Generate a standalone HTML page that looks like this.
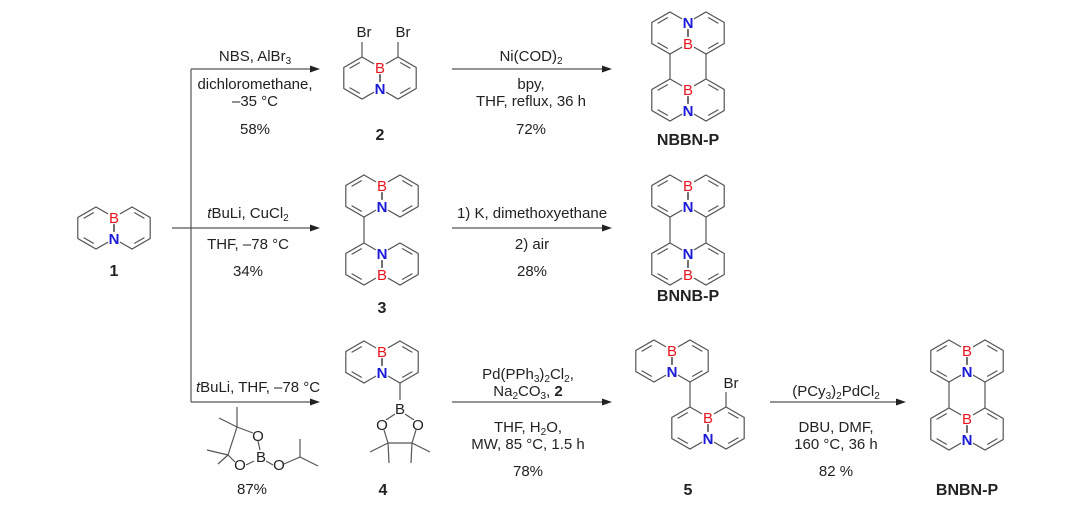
<!DOCTYPE html>
<html><head><meta charset="utf-8"><style>
html,body{margin:0;padding:0;background:#fff}
svg{display:block}
text{font-family:"Liberation Sans",Arial,sans-serif;font-size:15px;fill:#222}
.c{text-anchor:middle}
.b{font-weight:bold;font-size:16px}
.B{fill:#e8141e;font-size:15px;text-anchor:middle}
.N{fill:#1a1ad8;font-size:15px;text-anchor:middle;font-weight:bold}
.l{stroke:#555;stroke-width:1.2;fill:none}
</style></head><body>
<svg width="1080" height="506" viewBox="0 0 1080 506" xmlns="http://www.w3.org/2000/svg">
<defs>
<g id="hL" class="l"><polygon points="0,-21 18.2,-10.5 18.2,10.5 0,21 -18.2,10.5 -18.2,-10.5"/><line x1="-12.4" y1="-9.6" x2="-2.2" y2="-15.5"/><line x1="-12.4" y1="9.6" x2="-2.2" y2="15.5"/></g>
<g id="hR" class="l"><polygon points="0,-21 18.2,-10.5 18.2,10.5 0,21 -18.2,10.5 -18.2,-10.5"/><line x1="12.4" y1="-9.6" x2="2.2" y2="-15.5"/><line x1="12.4" y1="9.6" x2="2.2" y2="15.5"/></g>
<g id="bn"><use href="#hL" x="-18" y="0"/><use href="#hR" x="18" y="0"/></g>
</defs>
<g class="l" fill="none">
<line x1="191" y1="69" x2="312" y2="69"/><line x1="191" y1="69" x2="191" y2="402"/>
<line x1="172" y1="228" x2="312" y2="228"/>
<line x1="191" y1="402" x2="312" y2="402"/>
<line x1="452" y1="69" x2="604" y2="69"/>
<line x1="452" y1="228" x2="604" y2="228"/>
<line x1="452" y1="402" x2="604" y2="402"/>
<line x1="770" y1="402" x2="898" y2="402"/>
</g>
<g fill="#222">
<polygon points="320,69 310,65.5 310,72.5"/><polygon points="320,228 310,224.5 310,231.5"/><polygon points="320,402 310,398.5 310,405.5"/>
<polygon points="612,69 602,65.5 602,72.5"/><polygon points="612,228 602,224.5 602,231.5"/><polygon points="612,402 602,398.5 602,405.5"/>
<polygon points="906,402 896,398.5 896,405.5"/>
</g>
<use href="#bn" x="114" y="228"/>
<use href="#bn" x="380" y="78"/>
<use href="#bn" x="688" y="33"/><use href="#bn" x="688" y="100"/>
<use href="#bn" x="382" y="196"/><use href="#bn" x="382" y="264"/>
<use href="#bn" x="688" y="196"/><use href="#bn" x="688" y="264"/>
<use href="#bn" x="382" y="362"/>
<use href="#bn" x="672" y="361"/><use href="#bn" x="708" y="428"/>
<use href="#bn" x="967" y="361"/><use href="#bn" x="967" y="429"/>
<g class="l">
<line x1="362" y1="57" x2="362" y2="42"/><line x1="398" y1="57" x2="398" y2="42"/>
<line x1="670" y1="54" x2="670" y2="79"/><line x1="706" y1="54" x2="706" y2="79"/>
<line x1="364" y1="217" x2="364" y2="243"/>
<line x1="670" y1="217" x2="670" y2="243"/><line x1="706" y1="217" x2="706" y2="243"/>
<line x1="690" y1="382" x2="690" y2="407"/><line x1="726" y1="407" x2="726" y2="392"/>
<line x1="949" y1="382" x2="949" y2="408"/><line x1="985" y1="382" x2="985" y2="408"/>
<line x1="400" y1="383" x2="400" y2="400"/>
<line x1="395" y1="414" x2="386" y2="420"/><line x1="405" y1="414" x2="414" y2="420"/>
<line x1="384" y1="430" x2="388" y2="443"/><line x1="416" y1="430" x2="412" y2="443"/>
<line x1="388" y1="443" x2="412" y2="443"/>
<line x1="388" y1="443" x2="370" y2="452"/><line x1="388" y1="443" x2="389" y2="463"/>
<line x1="412" y1="443" x2="430" y2="452"/><line x1="412" y1="443" x2="411" y2="463"/>
<line x1="237" y1="427" x2="253" y2="433"/><line x1="237" y1="427" x2="228" y2="455"/>
<line x1="228" y1="455" x2="235" y2="462"/>
<line x1="258" y1="441" x2="260" y2="450"/><line x1="246" y1="465" x2="254" y2="461"/>
<line x1="266" y1="461" x2="273" y2="465"/><line x1="284" y1="464" x2="300" y2="457"/>
<line x1="300" y1="457" x2="318" y2="466"/><line x1="300" y1="457" x2="300" y2="439"/>
<line x1="237" y1="427" x2="237" y2="407"/><line x1="237" y1="427" x2="219" y2="418"/>
<line x1="228" y1="455" x2="207" y2="450"/><line x1="228" y1="455" x2="218" y2="464"/>
</g>
<g fill="#fff">
<circle cx="114" cy="217.5" r="7"/><circle cx="114" cy="238.5" r="7"/>
<circle cx="380" cy="67.5" r="7"/><circle cx="380" cy="88.5" r="7"/>
<circle cx="688" cy="22.5" r="7"/><circle cx="688" cy="43.5" r="7"/><circle cx="688" cy="89.5" r="7"/><circle cx="688" cy="110.5" r="7"/>
<circle cx="382" cy="185.5" r="7"/><circle cx="382" cy="206.5" r="7"/><circle cx="382" cy="253.5" r="7"/><circle cx="382" cy="274.5" r="7"/>
<circle cx="688" cy="185.5" r="7"/><circle cx="688" cy="206.5" r="7"/><circle cx="688" cy="253.5" r="7"/><circle cx="688" cy="274.5" r="7"/>
<circle cx="382" cy="351.5" r="7"/><circle cx="382" cy="372.5" r="7"/>
<circle cx="672" cy="350.5" r="7"/><circle cx="672" cy="371.5" r="7"/>
<circle cx="708" cy="417.5" r="7"/><circle cx="708" cy="438.5" r="7"/>
<circle cx="967" cy="350.5" r="7"/><circle cx="967" cy="371.5" r="7"/><circle cx="967" cy="418.5" r="7"/><circle cx="967" cy="439.5" r="7"/>
</g>
<g class="l">
<line x1="114" y1="224" x2="114" y2="232"/><line x1="380" y1="74" x2="380" y2="82"/>
<line x1="688" y1="29" x2="688" y2="37"/><line x1="688" y1="96" x2="688" y2="104"/>
<line x1="382" y1="192" x2="382" y2="200"/><line x1="382" y1="260" x2="382" y2="268"/>
<line x1="688" y1="192" x2="688" y2="200"/><line x1="688" y1="260" x2="688" y2="268"/>
<line x1="382" y1="358" x2="382" y2="366"/><line x1="672" y1="357" x2="672" y2="365"/>
<line x1="708" y1="424" x2="708" y2="432"/><line x1="967" y1="357" x2="967" y2="365"/><line x1="967" y1="425" x2="967" y2="433"/>
</g>
<g>
<text x="114" y="223" class="B">B</text><text x="380" y="73" class="B">B</text>
<text x="688" y="49" class="B">B</text><text x="688" y="95" class="B">B</text>
<text x="382" y="191" class="B">B</text><text x="382" y="280" class="B">B</text>
<text x="688" y="191" class="B">B</text><text x="688" y="280" class="B">B</text>
<text x="382" y="357" class="B">B</text><text x="672" y="356" class="B">B</text><text x="708" y="423" class="B">B</text>
<text x="967" y="356" class="B">B</text><text x="967" y="424" class="B">B</text>
</g>
<g>
<text x="114" y="244" class="N">N</text><text x="380" y="94" class="N">N</text>
<text x="688" y="28" class="N">N</text><text x="688" y="116" class="N">N</text>
<text x="382" y="212" class="N">N</text><text x="382" y="259" class="N">N</text>
<text x="688" y="212" class="N">N</text><text x="688" y="259" class="N">N</text>
<text x="382" y="378" class="N">N</text><text x="672" y="377" class="N">N</text><text x="708" y="444" class="N">N</text>
<text x="967" y="377" class="N">N</text><text x="967" y="445" class="N">N</text>
</g>
<text x="364" y="37" class="c">Br</text><text x="403" y="37" class="c">Br</text>
<text x="731" y="388" class="c">Br</text>
<text x="400" y="414" class="c">B</text>
<text x="382" y="430" class="c">O</text><text x="418" y="430" class="c">O</text>
<text x="258" y="441" class="c">O</text><text x="261" y="462" class="c">B</text>
<text x="240" y="470" class="c">O</text><text x="279" y="470" class="c">O</text>
<text x="114" y="276" class="c b">1</text><text x="380" y="140" class="c b">2</text><text x="382" y="313" class="c b">3</text>
<text x="383" y="495" class="c b">4</text><text x="688" y="495" class="c b">5</text>
<text x="688" y="145" class="c b">NBBN-P</text><text x="688" y="301" class="c b">BNNB-P</text><text x="967" y="495" class="c b">BNBN-P</text>
<text x="255" y="61" class="c">NBS, AlBr<tspan font-size="10" dy="3">3</tspan></text>
<text x="255" y="89" class="c">dichloromethane,</text><text x="255" y="106" class="c">–35 °C</text><text x="255" y="134" class="c">58%</text>
<text x="248" y="218" class="c"><tspan font-style="italic">t</tspan>BuLi, CuCl<tspan font-size="10" dy="3">2</tspan></text>
<text x="248" y="249" class="c">THF, –78 °C</text><text x="248" y="276" class="c">34%</text>
<text x="258" y="392" class="c"><tspan font-style="italic">t</tspan>BuLi, THF, –78 °C</text>
<text x="252" y="494" class="c">87%</text>
<text x="531" y="61" class="c">Ni(COD)<tspan font-size="10" dy="3">2</tspan></text>
<text x="531" y="89" class="c">bpy,</text><text x="531" y="106" class="c">THF, reflux, 36 h</text><text x="531" y="134" class="c">72%</text>
<text x="532" y="218" class="c">1) K, dimethoxyethane</text>
<text x="532" y="249" class="c">2) air</text><text x="532" y="276" class="c">28%</text>
<text x="528" y="379" class="c">Pd(PPh<tspan font-size="10" dy="3">3</tspan><tspan dy="-3">)</tspan><tspan font-size="10" dy="3">2</tspan><tspan dy="-3">Cl</tspan><tspan font-size="10" dy="3">2</tspan><tspan dy="-3">,</tspan></text>
<text x="528" y="396" class="c">Na<tspan font-size="10" dy="3">2</tspan><tspan dy="-3">CO</tspan><tspan font-size="10" dy="3">3</tspan><tspan dy="-3">, </tspan><tspan font-weight="bold">2</tspan></text>
<text x="528" y="432" class="c">THF, H<tspan font-size="10" dy="3">2</tspan><tspan dy="-3">O,</tspan></text>
<text x="528" y="449" class="c">MW, 85 °C, 1.5 h</text><text x="528" y="476" class="c">78%</text>
<text x="836" y="396" class="c">(PCy<tspan font-size="10" dy="3">3</tspan><tspan dy="-3">)</tspan><tspan font-size="10" dy="3">2</tspan><tspan dy="-3">PdCl</tspan><tspan font-size="10" dy="3">2</tspan></text>
<text x="836" y="432" class="c">DBU, DMF,</text><text x="836" y="449" class="c">160 °C, 36 h</text><text x="836" y="476" class="c">82 %</text>
</svg>
</body></html>
